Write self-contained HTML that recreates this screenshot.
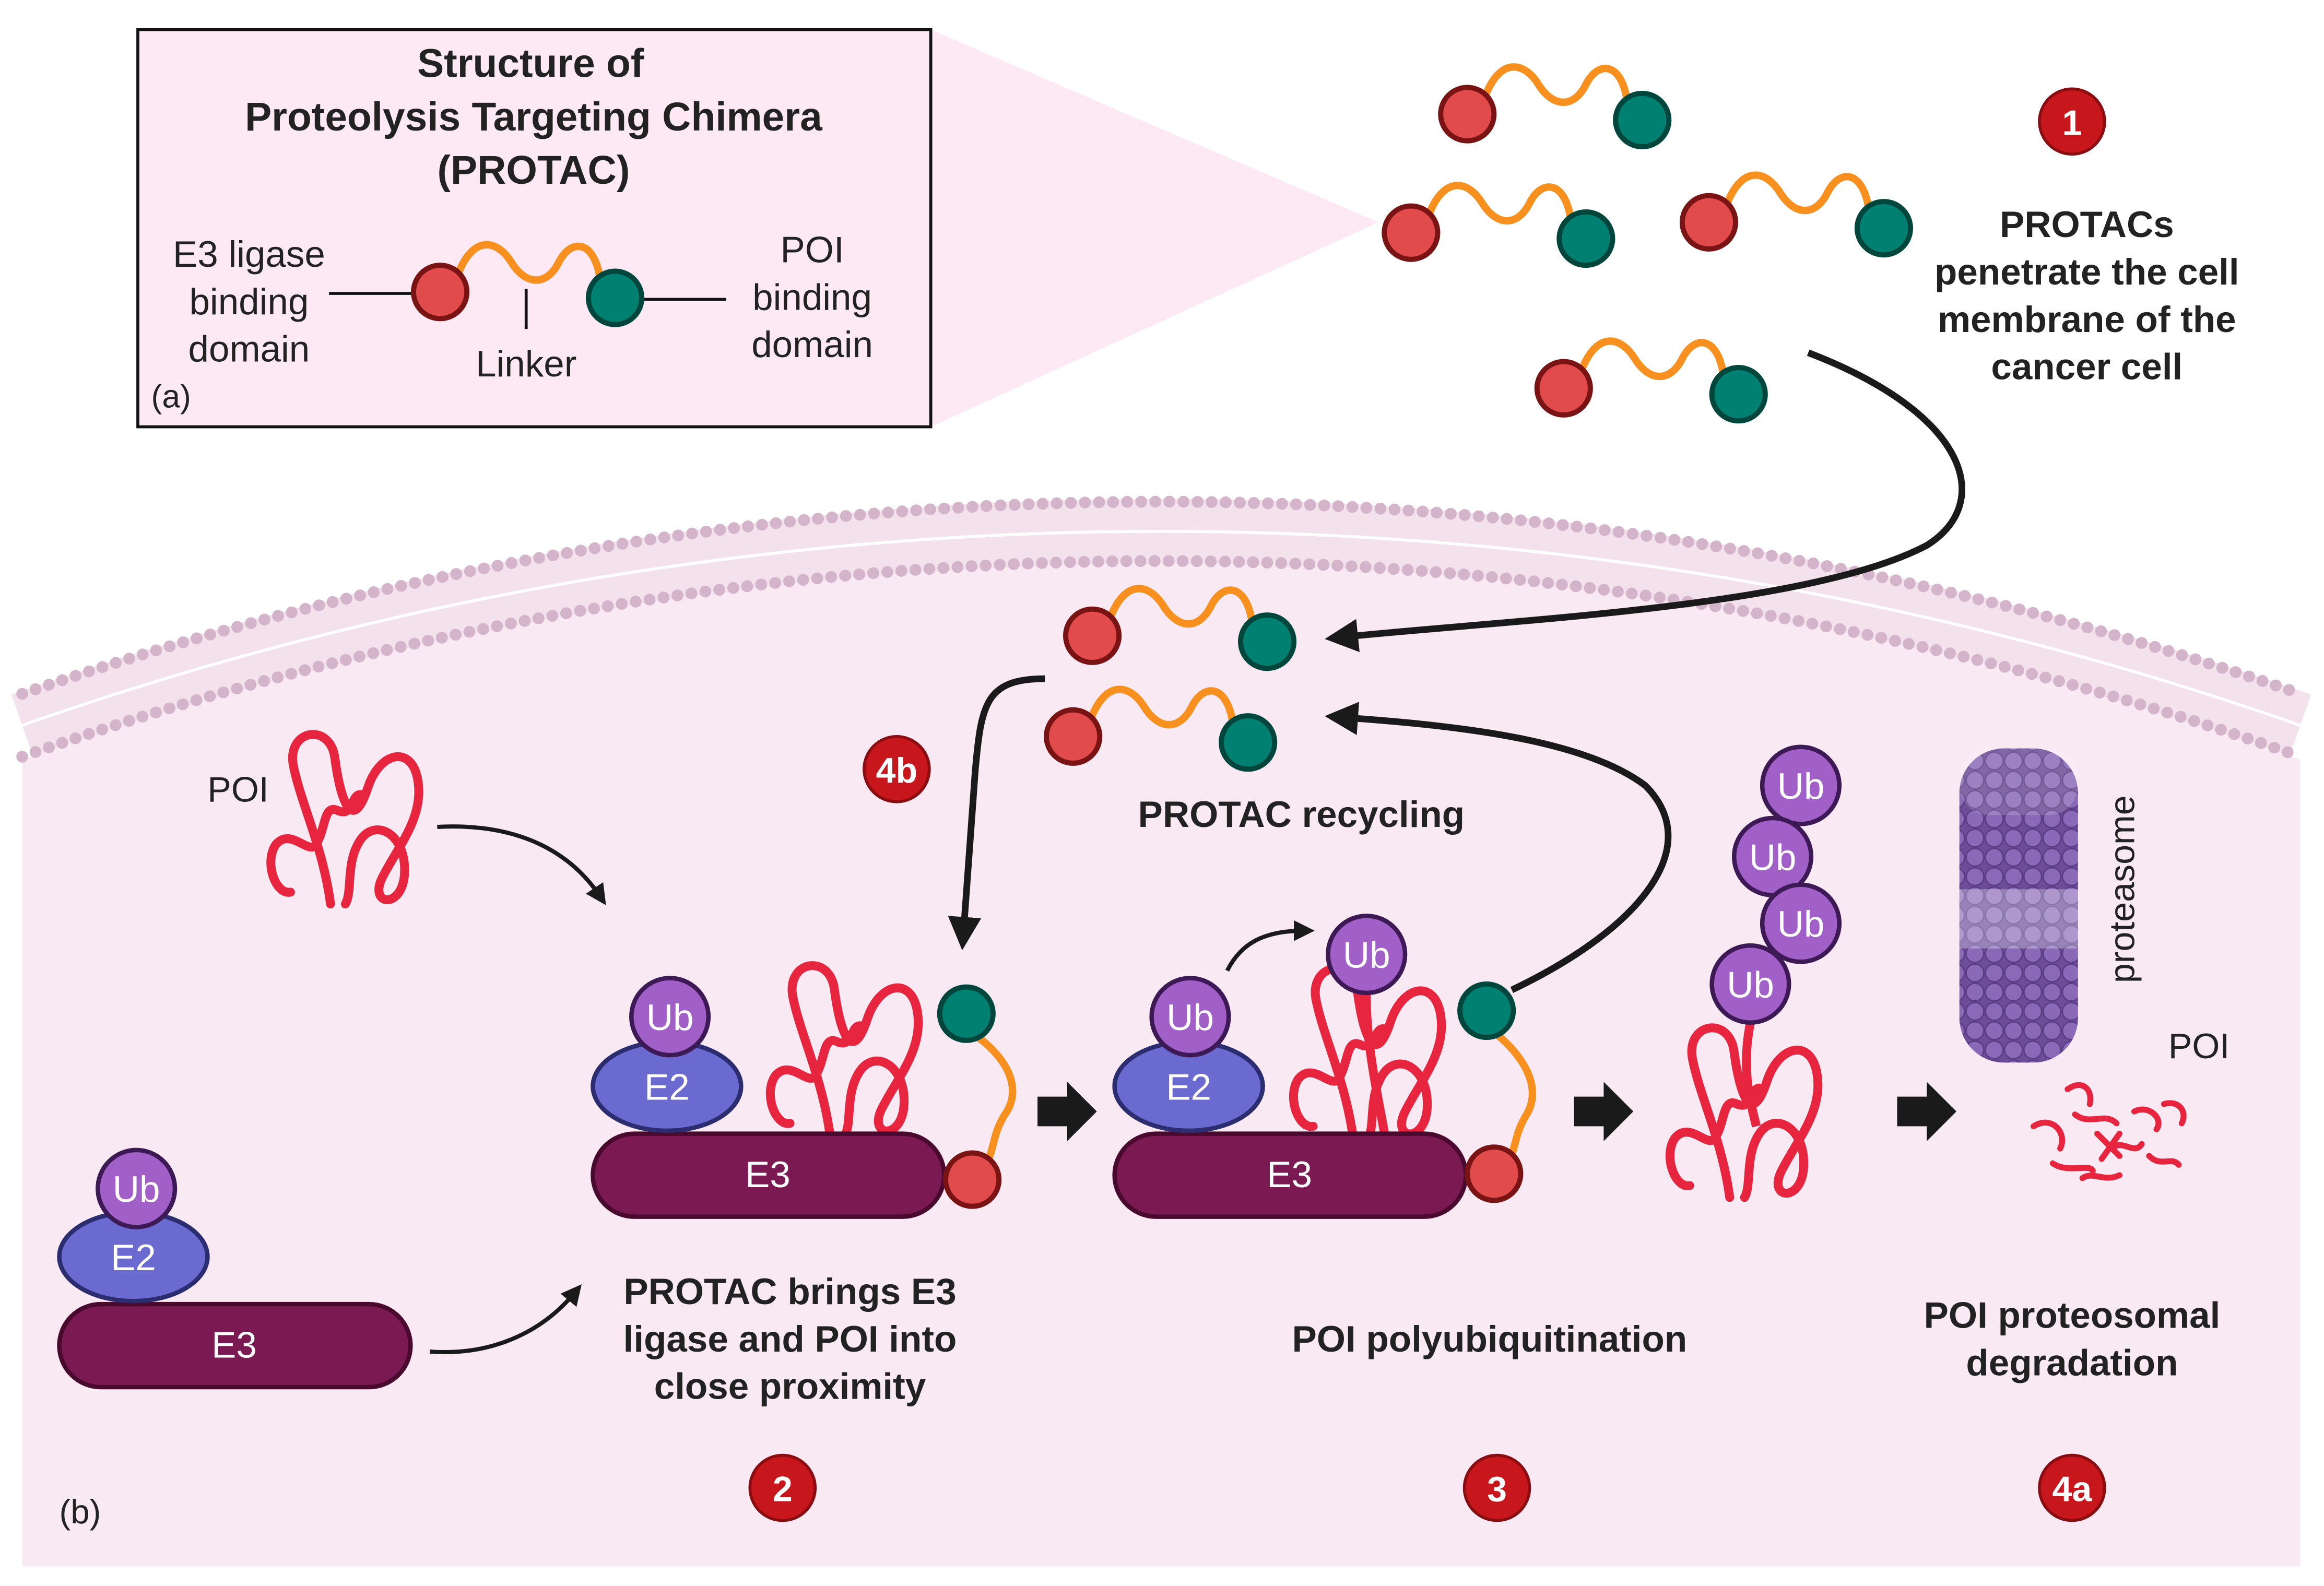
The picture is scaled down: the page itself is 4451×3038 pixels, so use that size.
<!DOCTYPE html>
<html><head><meta charset="utf-8"><style>
html,body{margin:0;padding:0;background:#fff;width:4451px;height:3038px;overflow:hidden}
svg{display:block}
text{font-family:"Liberation Sans",Arial,sans-serif}
</style></head><body>
<svg width="4451" height="3038" viewBox="0 0 1568 1070.2" preserveAspectRatio="none" xmlns="http://www.w3.org/2000/svg">
<defs>
<marker id="ah" viewBox="0 0 10 10" refX="5" refY="5" markerWidth="5" markerHeight="5" orient="auto"><path d="M0,0 L10,5 L0,10 Z" fill="#1a1a1a"/></marker>
<g id="protac">
<path d="M12,-12 C22,-38 38,-36 48,-20 C58,-4 72,-4 80,-20 C88,-36 104,-36 108,-8" fill="none" stroke="#f7901e" stroke-width="5" stroke-linecap="round"/>
<circle cx="0" cy="0" r="18" fill="#e24b4b" stroke="#7a1414" stroke-width="3.5"/>
<circle cx="118" cy="4" r="18" fill="#008070" stroke="#00463c" stroke-width="3.5"/>
</g>
<g id="poi">
<path d="M45,118 C40,80 25,50 20,25 C15,0 45,-5 48,20 C52,50 60,70 70,40 C78,15 100,10 104,35 C108,60 90,80 80,100 C70,120 95,122 95,95 C95,70 75,60 65,75 C55,90 60,110 55,118 M18,110 C8,112 0,90 8,78 C18,66 30,85 35,78 C42,68 40,50 50,55 C62,60 58,40 68,45" fill="none" stroke="#e8253f" stroke-width="6" stroke-linecap="round"/>
</g>
<pattern id="prot" x="0" y="0" width="13" height="13" patternUnits="userSpaceOnUse">
<rect width="13" height="13" fill="#6d4d98"/>
<circle cx="6.5" cy="6.5" r="6" fill="#8a6ab8" stroke="#5a3d85" stroke-width="1"/>
</pattern>
</defs>

<polygon points="628,20 930,150 628,288" fill="#fde9f3"/>
<rect x="93" y="20" width="535" height="268" fill="#fde9f3" stroke="#111" stroke-width="2"/>

<path d="M15,512.7 A2300,2300 0 0 1 1552,512.7 L1552,1057 L15,1057 Z" fill="#f9e9f3"/>
<path d="M15,489.4 A2322,2322 0 0 1 1552,489.4" fill="none" stroke="#f3e1ec" stroke-width="44"/>
<path d="M15,489.4 A2322,2322 0 0 1 1552,489.4" fill="none" stroke="#ffffff" stroke-width="2"/>
<path d="M15,468.2 A2342,2342 0 0 1 1552,468.2" fill="none" stroke="#d4b4ca" stroke-width="8" stroke-dasharray="0 9.5" stroke-linecap="round"/>
<path d="M15,510.6 A2302,2302 0 0 1 1552,510.6" fill="none" stroke="#d4b4ca" stroke-width="8" stroke-dasharray="0 9.5" stroke-linecap="round"/>

<text x="358" y="52" font-size="27" font-weight="bold" text-anchor="middle" fill="#222">Structure of</text>
<text x="360" y="88" font-size="27" font-weight="bold" text-anchor="middle" fill="#222">Proteolysis Targeting Chimera</text>
<text x="360" y="124" font-size="27" font-weight="bold" text-anchor="middle" fill="#222">(PROTAC)</text>
<g font-size="25" text-anchor="middle" fill="#222">
<text x="168" y="180">E3 ligase</text><text x="168" y="212">binding</text><text x="168" y="244">domain</text>
<text x="548" y="177">POI</text><text x="548" y="209">binding</text><text x="548" y="241">domain</text>
<text x="355" y="254">Linker</text>
</g>
<text x="102" y="275" font-size="22" fill="#222">(a)</text>
<line x1="222" y1="198" x2="280" y2="198" stroke="#111" stroke-width="2"/>
<line x1="432" y1="202" x2="490" y2="202" stroke="#111" stroke-width="2"/>
<line x1="355" y1="195" x2="355" y2="222" stroke="#111" stroke-width="2"/>
<use href="#protac" x="297" y="197"/>

<use href="#protac" x="990" y="77"/>
<use href="#protac" x="952" y="157"/>
<use href="#protac" x="1153" y="150"/>
<use href="#protac" x="1055" y="262"/>
<use href="#protac" x="737" y="429"/>
<use href="#protac" x="724" y="497"/>

<g font-size="25" font-weight="bold" text-anchor="middle" fill="#222">
<text x="1408" y="160">PROTACs</text><text x="1408" y="192">penetrate the cell</text><text x="1408" y="224">membrane of the</text><text x="1408" y="256">cancer cell</text>
<text x="878" y="558">PROTAC recycling</text>
<text x="533" y="880">PROTAC brings E3</text><text x="533" y="912">ligase and POI into</text><text x="533" y="944">close proximity</text>
<text x="1005" y="912">POI polyubiquitination</text>
<text x="1398" y="896">POI proteosomal</text><text x="1398" y="928">degradation</text>
</g>
<text x="40" y="1028" font-size="23" fill="#222">(b)</text>
<text x="140" y="541" font-size="24" fill="#222">POI</text>
<text x="1463" y="714" font-size="24" fill="#222">POI</text>

<g fill="none" stroke="#1a1a1a" stroke-width="4.5">
<path d="M1220,238 C1330,280 1345,340 1300,368 C1220,410 1020,418 905,430" marker-end="url(#ah)"/>
<path d="M705,458 C665,458 662,475 658,520 L650,630" marker-end="url(#ah)"/>
<path d="M1020,668 C1110,625 1150,570 1110,530 C1070,500 990,490 905,484" marker-end="url(#ah)"/>
</g>
<g fill="none" stroke="#1a1a1a" stroke-width="2.8">
<path d="M295,558 C350,555 385,575 405,605" marker-end="url(#ah)"/>
<path d="M290,912 C330,915 365,900 388,872" marker-end="url(#ah)"/>
<path d="M828,655 C838,635 855,628 880,628" marker-end="url(#ah)"/>
</g>

<g fill="#1a1a1a">
<path d="M700,740 L720,740 L720,730 L740,750 L720,770 L720,760 L700,760 Z"/>
<path d="M1062,740 L1082,740 L1082,730 L1102,750 L1082,770 L1082,760 L1062,760 Z"/>
<path d="M1280,740 L1300,740 L1300,730 L1320,750 L1300,770 L1300,760 L1280,760 Z"/>
</g>

<use href="#poi" x="178" y="492"/>

<rect x="40" y="880" width="237" height="56" rx="28" fill="#7b1a52" stroke="#4a0a30" stroke-width="3"/>
<ellipse cx="90" cy="848" rx="50" ry="30" fill="#6a6ad0" stroke="#2c2c70" stroke-width="3"/>
<circle cx="92" cy="802" r="26" fill="#a060c8" stroke="#3d1a55" stroke-width="3"/>

<use href="#poi" x="515" y="648"/>
<rect x="400" y="765" width="237" height="56" rx="28" fill="#7b1a52" stroke="#4a0a30" stroke-width="3"/>
<ellipse cx="450" cy="733" rx="50" ry="30" fill="#6a6ad0" stroke="#2c2c70" stroke-width="3"/>
<circle cx="452" cy="686" r="26" fill="#a060c8" stroke="#3d1a55" stroke-width="3"/>
<path d="M660,700 C680,715 690,735 678,752 C668,768 672,778 662,790" fill="none" stroke="#f7901e" stroke-width="5"/>
<circle cx="652" cy="684" r="18" fill="#008070" stroke="#00463c" stroke-width="3.5"/>
<circle cx="656" cy="796" r="18" fill="#e24b4b" stroke="#7a1414" stroke-width="3.5"/>

<path d="M922,660 C920,700 930,740 935,770" fill="none" stroke="#e8253f" stroke-width="6"/>
<use href="#poi" x="868" y="650"/>
<rect x="752" y="765" width="237" height="56" rx="28" fill="#7b1a52" stroke="#4a0a30" stroke-width="3"/>
<ellipse cx="802" cy="733" rx="50" ry="30" fill="#6a6ad0" stroke="#2c2c70" stroke-width="3"/>
<circle cx="803" cy="686" r="26" fill="#a060c8" stroke="#3d1a55" stroke-width="3"/>
<circle cx="922" cy="644" r="26" fill="#a060c8" stroke="#3d1a55" stroke-width="3"/>
<path d="M1010,698 C1030,715 1040,735 1030,752 C1020,768 1024,778 1014,788" fill="none" stroke="#f7901e" stroke-width="5"/>
<circle cx="1003" cy="682" r="18" fill="#008070" stroke="#00463c" stroke-width="3.5"/>
<circle cx="1008" cy="792" r="18" fill="#e24b4b" stroke="#7a1414" stroke-width="3.5"/>

<path d="M1181,690 C1175,720 1180,740 1185,760" fill="none" stroke="#e8253f" stroke-width="6"/>
<use href="#poi" x="1122" y="690"/>
<circle cx="1215" cy="530" r="26" fill="#a060c8" stroke="#3d1a55" stroke-width="3"/>
<circle cx="1196" cy="578" r="26" fill="#a060c8" stroke="#3d1a55" stroke-width="3"/>
<circle cx="1215" cy="623" r="26" fill="#a060c8" stroke="#3d1a55" stroke-width="3"/>
<circle cx="1181" cy="664" r="26" fill="#a060c8" stroke="#3d1a55" stroke-width="3"/>

<g font-size="25" fill="#fff" text-anchor="middle">
<text x="92" y="811">Ub</text><text x="90" y="857">E2</text><text x="158" y="916">E3</text>
<text x="452" y="695">Ub</text><text x="450" y="742">E2</text><text x="518" y="801">E3</text>
<text x="803" y="695">Ub</text><text x="802" y="742">E2</text><text x="870" y="801">E3</text>
<text x="922" y="653">Ub</text>
<text x="1215" y="539">Ub</text><text x="1196" y="587">Ub</text><text x="1215" y="632">Ub</text><text x="1181" y="673">Ub</text>
</g>

<rect x="1322" y="505" width="80" height="212" rx="30" fill="url(#prot)"/>
<rect x="1322" y="600" width="80" height="40" fill="#ffffff" opacity="0.3"/>
<rect x="1322" y="505" width="80" height="45" rx="20" fill="#ffffff" opacity="0.15"/>
<text x="1440" y="600" font-size="24" fill="#222" text-anchor="middle" transform="rotate(-90 1440 600)">proteasome</text>
<g fill="none" stroke="#e8253f" stroke-width="4" stroke-linecap="round">
<path d="M1395,735 C1405,728 1412,735 1410,745"/>
<path d="M1372,760 C1385,752 1395,765 1390,775"/>
<path d="M1400,752 C1410,760 1420,750 1428,758"/>
<path d="M1385,785 C1395,792 1410,785 1412,790"/>
<path d="M1425,775 C1432,768 1440,780 1445,772"/>
<path d="M1440,750 C1450,745 1460,755 1455,762"/>
<path d="M1415,765 L1430,780 M1430,765 L1418,782"/>
<path d="M1450,780 C1458,788 1465,780 1470,786"/>
<path d="M1460,745 C1470,742 1476,750 1472,758"/>
<path d="M1405,795 C1412,790 1420,798 1430,793"/>
</g>

<g fill="#c8161d" stroke="#8a0d12" stroke-width="2">
<circle cx="1398" cy="82" r="22"/><circle cx="605" cy="519" r="22"/><circle cx="528" cy="1004" r="22"/><circle cx="1010" cy="1004" r="22"/><circle cx="1398" cy="1004" r="22"/>
</g>
<g font-size="24" font-weight="bold" fill="#fff" text-anchor="middle">
<text x="1398" y="91">1</text><text x="605" y="528">4b</text><text x="528" y="1013">2</text><text x="1010" y="1013">3</text><text x="1398" y="1013">4a</text>
</g>
</svg>
</body></html>
